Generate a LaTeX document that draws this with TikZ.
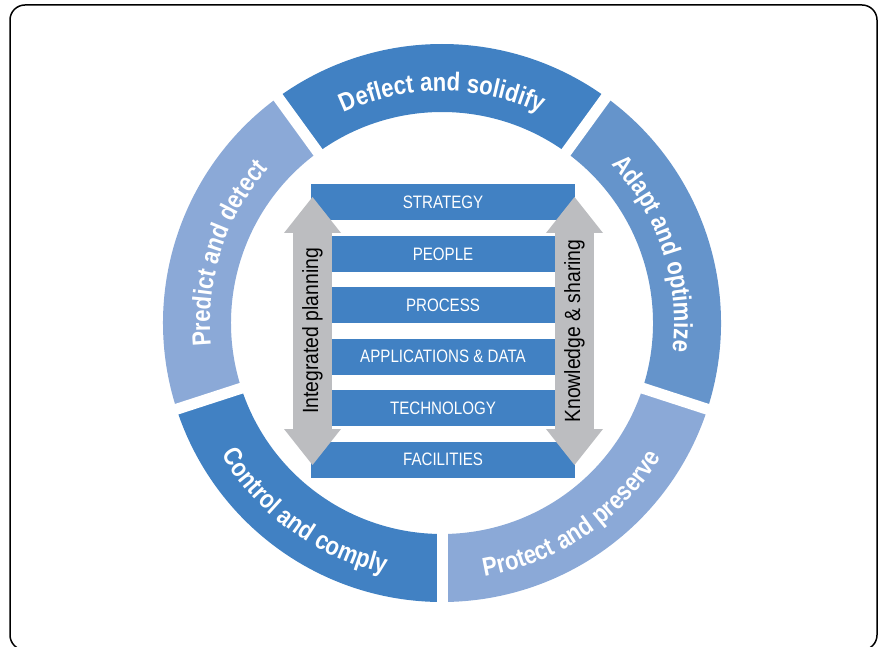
\documentclass[tikz,border=0pt]{standalone}
\usepackage{fontspec}
\setmainfont{Liberation Sans}
\newfontfamily\barfont{Liberation Sans}[FakeStretch=0.84]
\newfontfamily\ringfont{Liberation Sans Bold}[FakeStretch=0.85]
\newfontfamily\arrowfont{Liberation Sans}[FakeStretch=0.88]
\usepackage{tikz}
\usetikzlibrary{positioning}
\usetikzlibrary{calc}
\usetikzlibrary{arrows.meta}
\usetikzlibrary{decorations.text}
\definecolor{darkblue}{HTML}{4181C3}
\definecolor{midblue}{HTML}{6594CB}
\definecolor{lightblue}{HTML}{8BA9D7}
\definecolor{arrowgray}{HTML}{BCBDC0}
\tikzset{layer/.style={fill=darkblue,text=white,minimum width=264pt,minimum height=36pt,inner sep=0pt,font=\barfont\fontsize{18}{20}\selectfont},
flowarrow/.style={draw=arrowgray,line width=39pt,{Triangle[length=36pt,width=57pt,line width=0pt]}-{Triangle[length=36pt,width=57pt,line width=0pt]}},
arrowlabel/.style={midway,rotate=90,text=black,font=\arrowfont\fontsize{22}{24}\selectfont},
gap/.style={draw=white,line width=11pt}}
\newcommand{\ringpart}[3]{\fill[#3] ($(c)+(#1:279)$) arc[start angle=#1,end angle=#2,radius=279] -- ($(c)+(#2:211)$) arc[start angle=#2,end angle=#1,radius=211] -- cycle;}
\newcommand{\ringtext}[4]{\path[decorate,decoration={text along path,text align=center,text color=white,text={|\ringfont\fontsize{26}{28}\selectfont|#4}}] ($(c)+(#1:#3)$) arc[start angle=#1,end angle=#2,radius=#3];}

\begin{document}
\begin{tikzpicture}[x=1pt,y=1pt]
\useasboundingbox (0,0) rectangle (882,646);
\draw[line width=1.5pt,rounded corners=15pt] (10,-4) rectangle (877,641);
\coordinate (c) at (442,323);
% ring
\ringpart{54}{126}{darkblue}
\ringpart{126}{198}{lightblue}
\ringpart{198}{270}{darkblue}
\ringpart{270}{342}{lightblue}
\ringpart{-18}{54}{midblue}
\foreach \a in {54,126,198,270,342}
  \draw[gap] ($(c)+(\a:205)$) -- ($(c)+(\a:285)$);
\ringtext{135}{45}{232}{Deflect and solidify}
\ringtext{63}{-27}{232}{Adapt and optimize}
\ringtext{207}{117}{232}{Predict and detect}
\ringtext{189}{279}{257}{Control and comply}
\ringtext{259}{349}{257}{Protect and preserve}
% layers
\node[layer] (strategy) at (443,443.5) {STRATEGY};
\node[layer,below=15pt of strategy] (people) {PEOPLE};
\node[layer,below=15pt of people] (process) {PROCESS};
\node[layer,below=15pt of process] (appdata) {APPLICATIONS \& DATA};
\node[layer,below=15pt of appdata] (technology) {TECHNOLOGY};
\node[layer,below=15pt of technology] (facilities) {FACILITIES};
% side arrows
\coordinate (plantop) at (312.5,449);
\coordinate (planbot) at (312.5,181);
\coordinate (sharetop) at (574.5,449);
\coordinate (sharebot) at (574.5,181);
\draw[flowarrow] (planbot) -- (plantop) node[arrowlabel] (plan) {Integrated planning};
\draw[flowarrow] (sharebot) -- (sharetop) node[arrowlabel] (share) {Knowledge \& sharing};
\end{tikzpicture}
\end{document}
